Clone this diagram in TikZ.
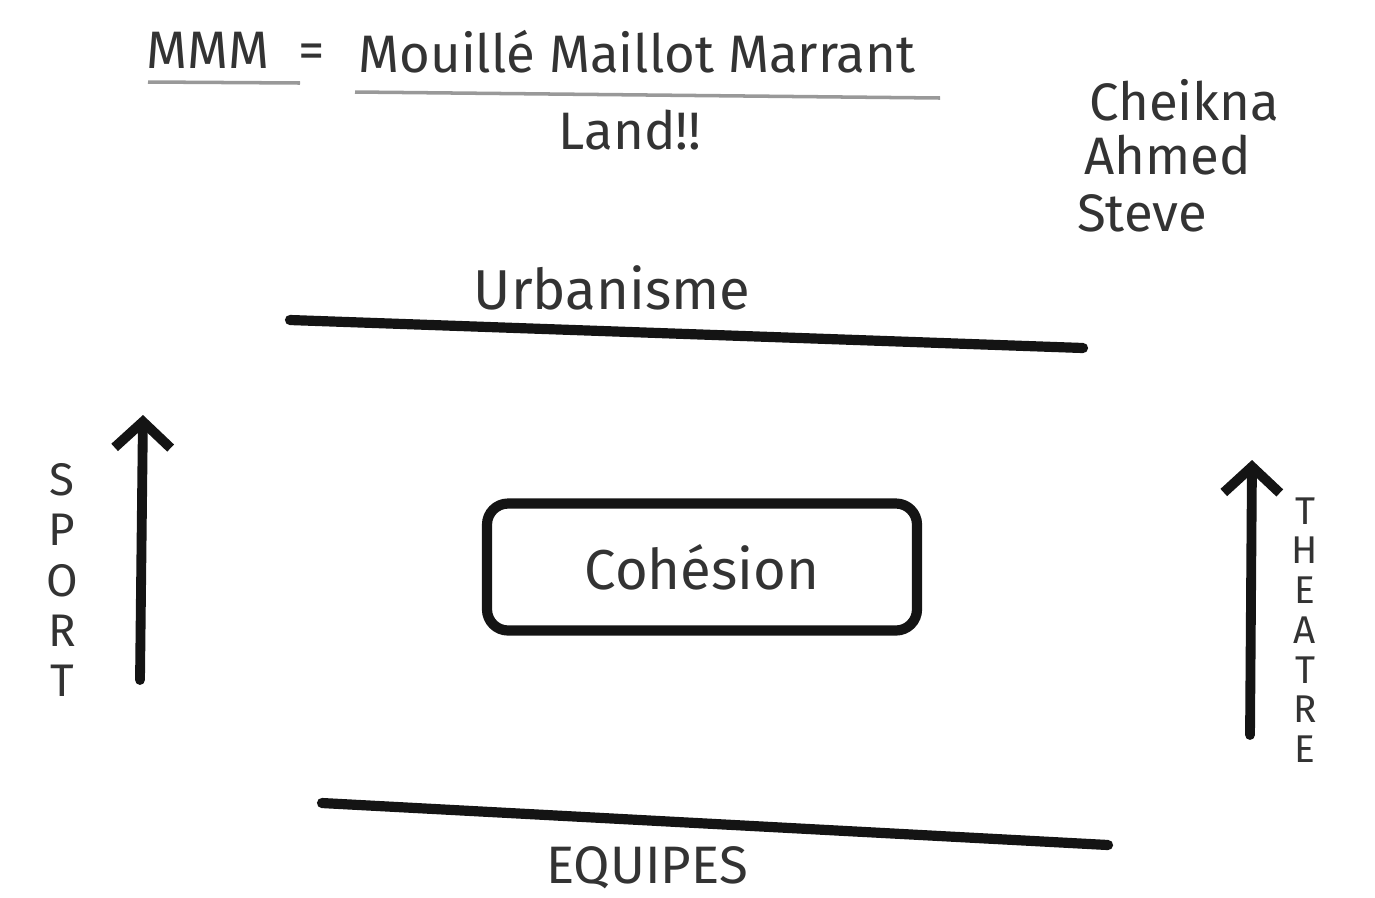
\documentclass[tikz,border=0pt]{standalone}
\usepackage{fontspec}
\setmainfont{Fira Sans}
\usetikzlibrary{arrows.meta}

\begin{document}
\begin{tikzpicture}[
  ink/.style={text=black!80, inner sep=1pt},
  word/.style={ink, font=\fontsize{16}{19}\selectfont},
  small/.style={ink, font=\fontsize{15}{18}\selectfont},
  stack/.style={ink, align=center, inner sep=0pt},
  rule/.style={line width=2.9pt, black!92, line cap=round},
  uline/.style={line width=1pt, black!40},
  rise/.style={line width=2.8pt, black!92, line cap=round,
               -{Straight Barb[length=2.6mm, width=5.6mm]}},
  hub/.style={draw=black!92, line width=2.9pt, rounded corners=6pt,
              minimum width=4.3cm, minimum height=1.27cm, word}
]
\useasboundingbox (0,0) rectangle (13.75,-8.97);

% title
\node[small] (mmm) at (2.08,-0.50) {MMM};
\node[small] (eq) at (3.12,-0.56) {=};
\node[small] (motto) at (6.37,-0.52) {Mouillé Maillot Marrant};
\node[small] (land) at (6.30,-1.30) {Land!!};
\draw[uline] (1.48,-0.82) -- (3.00,-0.83);
\draw[uline] (3.55,-0.92) -- (9.40,-0.98);

% team
\node[small, anchor=west] (cheikna) at (10.85,-1.00) {Cheikna};
\node[small, anchor=west] (ahmed) at (10.80,-1.55) {Ahmed};
\node[small, anchor=west] (steve) at (10.73,-2.13) {Steve};

% frame
\node[word] (urba) at (6.12,-2.88) {Urbanisme};
\draw[rule] (2.90,-3.20) -- (10.83,-3.48);
\draw[rule] (3.22,-8.03) -- (11.08,-8.45);
\node[small] (equipes) at (6.47,-8.68) {EQUIPES};

\node[hub] (cohesion) at (7.02,-5.67) {Cohésion};

% sides
\coordinate (sportfoot) at (1.40,-6.80);
\coordinate (sporttip) at (1.43,-4.15);
\draw[rise] (sportfoot) -- (sporttip);
\node[stack, font=\fontsize{13}{14.3}\selectfont] (sport) at (0.62,-5.80) {S\\P\\O\\R\\T};

\coordinate (theatrefoot) at (12.50,-7.35);
\coordinate (theatretip) at (12.52,-4.60);
\draw[rise] (theatrefoot) -- (theatretip);
\node[stack, font=\fontsize{11}{11.3}\selectfont] (theatre) at (13.05,-6.30) {T\\H\\E\\A\\T\\R\\E};
\end{tikzpicture}
\end{document}
